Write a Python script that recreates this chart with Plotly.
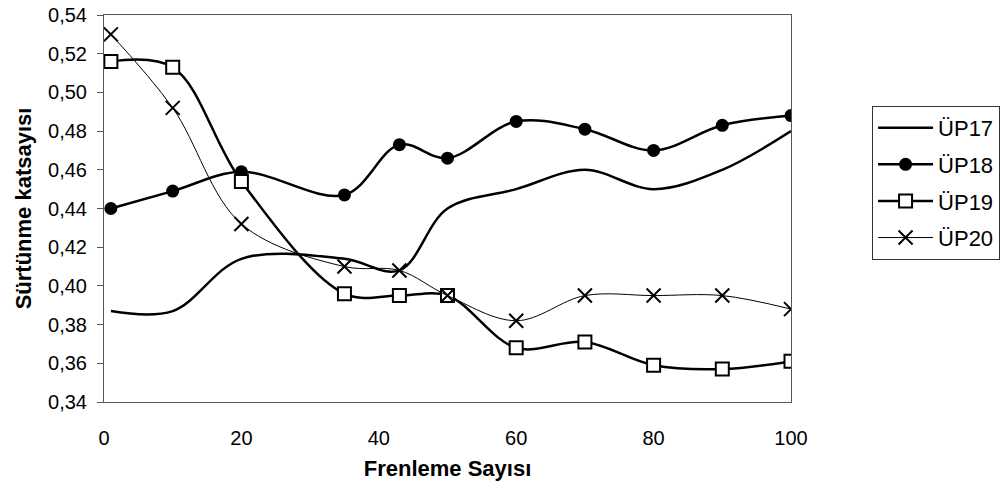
import plotly.graph_objects as go

# Frenleme sayısına göre sürtünme katsayısı ölçümleri
frenleme = [1, 10, 20, 35, 43, 50, 60, 70, 80, 90, 100]
up17 = [0.387, 0.387, 0.414, 0.414, 0.408, 0.440, 0.450, 0.460, 0.450, 0.460, 0.480]
up18 = [0.440, 0.449, 0.459, 0.447, 0.473, 0.466, 0.485, 0.481, 0.470, 0.483, 0.488]
up19 = [0.516, 0.513, 0.454, 0.396, 0.395, 0.395, 0.368, 0.371, 0.359, 0.357, 0.361]
up20 = [0.530, 0.492, 0.432, 0.410, 0.408, 0.395, 0.382, 0.395, 0.395, 0.395, 0.388]

y_ticks = [0.34, 0.36, 0.38, 0.40, 0.42, 0.44, 0.46, 0.48, 0.50, 0.52, 0.54]
x_ticks = [0, 20, 40, 60, 80, 100]

fig = go.Figure()

fig.add_trace(go.Scatter(
    x=frenleme, y=up17, name="ÜP17", mode="lines", legendgroup="a",
    line=dict(color="black", width=2.5, shape="spline", smoothing=1.0),
))
fig.add_trace(go.Scatter(
    x=frenleme, y=up18, name="ÜP18", mode="lines+markers", legendgroup="b",
    line=dict(color="black", width=2.5, shape="spline", smoothing=1.0),
    marker=dict(symbol="circle", size=13, color="black"),
))
fig.add_trace(go.Scatter(
    x=frenleme, y=up19, name="ÜP19", mode="lines+markers", legendgroup="c",
    line=dict(color="black", width=2.5, shape="spline", smoothing=1.0),
    marker=dict(symbol="square", size=13, color="white",
                line=dict(color="black", width=2)),
))
fig.add_trace(go.Scatter(
    x=frenleme, y=up20, name="ÜP20", mode="lines+markers", legendgroup="d",
    line=dict(color="black", width=1, shape="spline", smoothing=1.0),
    marker=dict(symbol="x-thin", size=14, color="black",
                line=dict(color="black", width=2)),
))

fig.update_layout(
    width=1001, height=493,
    margin=dict(l=104, r=210, t=15, b=91, autoexpand=False),
    paper_bgcolor="white", plot_bgcolor="white",
    separators=",.",
    font=dict(family="Arial, Liberation Sans, sans-serif", size=20, color="black"),
    showlegend=True,
    legend=dict(
        x=1.118, y=0.765, xanchor="left", yanchor="top",
        bordercolor="#333333", borderwidth=1, bgcolor="white",
        font=dict(size=22), itemwidth=55,
        traceorder="grouped", tracegroupgap=5,
    ),
)

fig.update_xaxes(
    range=[0, 100], tickvals=x_ticks, ticks="",
    ticklabelstandoff=18,
    showgrid=False, zeroline=False,
    showline=True, linecolor="#555555", linewidth=1, mirror=True,
    title=dict(text="<b>Frenleme Sayısı</b>", font=dict(size=22), standoff=12),
)
fig.update_yaxes(
    range=[0.34, 0.54], tickvals=y_ticks, tickformat=".2f",
    ticks="outside", ticklen=6, tickcolor="#555555",
    ticklabelstandoff=6,
    showgrid=False, zeroline=False,
    showline=True, linecolor="#555555", linewidth=1, mirror=True,
    title=dict(text="<b>Sürtünme katsayısı</b>", font=dict(size=22), standoff=10),
)

fig.write_html("out.html")
